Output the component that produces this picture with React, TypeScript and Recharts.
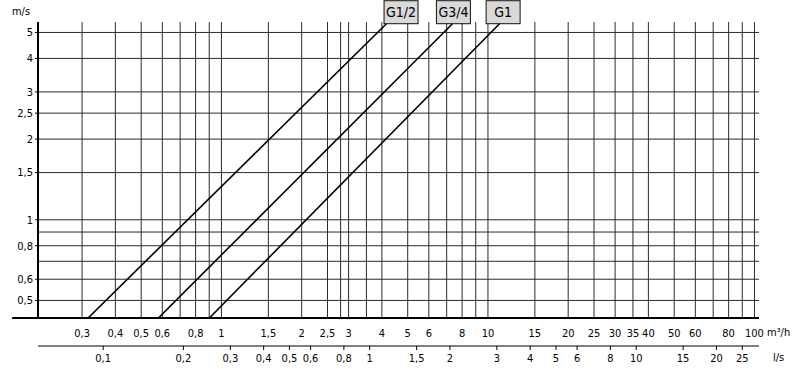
import React from "react";
import { LineChart, Line, XAxis, YAxis, ReferenceLine, ReferenceDot } from "recharts";

// flow in m3/h (top scale) and l/s (bottom scale), velocity in m/s
const flowTicks = [0.3, 0.4, 0.5, 0.6, 0.8, 1, 1.5, 2, 2.5, 3, 4, 5, 6, 8, 10, 15, 20, 25, 30, 35, 40, 50, 60, 80, 100];
const flowGrid = [0.3, 0.4, 0.5, 0.6, 0.7, 0.8, 0.9, 1, 1.5, 2, 2.5, 2.8, 3, 3.5, 4, 5, 6, 7, 8, 9, 10, 15, 20, 25, 30, 35, 40, 50, 60, 70, 80, 90, 100];
const litreTicks = [0.1, 0.2, 0.3, 0.4, 0.5, 0.6, 0.8, 1, 1.5, 2, 3, 4, 5, 6, 8, 10, 15, 20, 25];
const speedTicks = [0.5, 0.6, 0.8, 1, 1.5, 2, 2.5, 3, 4, 5];
const speedGrid = [0.5, 0.6, 0.7, 0.8, 0.9, 1, 1.5, 2, 2.5, 3, 4, 5];

const flowDomain = [0.205, 104];
const litreDomain = [0.205 / 3.6, 104 / 3.6];
const speedDomain = [0.43, 5.47];

const pipeHalf = [
  { q: 0.316, v: 0.43 },
  { q: 4.16, v: 5.39 },
];
const pipeThreeQuarter = [
  { q: 0.58, v: 0.43 },
  { q: 7.36, v: 5.39 },
];
const pipeOne = [
  { q: 0.901, v: 0.43 },
  { q: 11.05, v: 5.39 },
];

const pipeTags = [
  { name: "G1/2", q: 4.72, v: 5.39 },
  { name: "G3/4", q: 7.42, v: 5.39 },
  { name: "G1", q: 11.4, v: 5.39 },
];

const font = "'DejaVu Sans Condensed', 'Liberation Sans Narrow', sans-serif";
const fmt = (v: number) => String(v).replace(".", ",");

const PipeTag = ({ viewBox, tag }: any) => {
  const cx = viewBox.x;
  const cy = viewBox.y;
  return (
    <g>
      <rect x={cx - 17} y={cy - 23} width={34} height={23} fill="#d9d9d9" stroke="#111" strokeWidth={1} />
      <text x={cx} y={cy - 6.5} textAnchor="middle" fontFamily={font} fontSize={14} fill="#000">
        {tag}
      </text>
    </g>
  );
};

export default function App() {
  const tickStyle = { fontSize: 11, fontFamily: font, fill: "#000" };
  // invisible carrier so the l/s axis gets its ticks
  const litreCarrier = litreTicks.map((l) => ({ l, v: 1 }));
  return (
    <div style={{ position: "absolute", left: 0, top: 0, width: 800, height: 369, background: "#fff" }}>
      <LineChart width={800} height={369} margin={{ top: 22, right: 41, left: 8, bottom: 0 }}>
        <XAxis
          xAxisId="flow"
          type="number"
          dataKey="q"
          scale="log"
          domain={flowDomain}
          allowDataOverflow
          ticks={flowTicks}
          interval={0}
          tickFormatter={fmt}
          tick={tickStyle}
          tickLine={false}
          axisLine={false}
          tickSize={8}
          tickMargin={3}
          height={28}
          label={{ value: "m³/h", position: "right", offset: 8, fontSize: 11, fontFamily: font, fill: "#000" }}
        />
        <XAxis
          xAxisId="litre"
          type="number"
          dataKey="l"
          scale="log"
          domain={litreDomain}
          allowDataOverflow
          ticks={litreTicks}
          interval={0}
          tickFormatter={fmt}
          tick={tickStyle}
          tickLine={{ stroke: "#000" }}
          axisLine={{ stroke: "#000" }}
          tickSize={4}
          tickMargin={4}
          height={23}
          label={{ value: "l/s", position: "right", offset: 14, fontSize: 11, fontFamily: font, fill: "#000" }}
        />
        <YAxis
          type="number"
          dataKey="v"
          scale="log"
          domain={speedDomain}
          allowDataOverflow
          ticks={speedTicks}
          interval={0}
          tickFormatter={fmt}
          tick={tickStyle}
          tickLine={{ stroke: "#000" }}
          axisLine={{ stroke: "#000", strokeWidth: 2 }}
          tickSize={3}
          tickMargin={2}
          width={30}
          label={{ value: "m/s", position: "top", offset: 7, dx: -2, fontSize: 11, fontFamily: font, fill: "#000" }}
        />

        {speedGrid.map((v) => (
          <ReferenceLine key={"h" + v} xAxisId="flow" y={v} stroke="#2b2b2b" strokeWidth={1} />
        ))}
        {flowGrid.map((q) => (
          <ReferenceLine key={"v" + q} xAxisId="flow" x={q} stroke="#2b2b2b" strokeWidth={1} />
        ))}
        <ReferenceLine
          xAxisId="flow"
          segment={[
            { x: 0.164, y: 0.43 },
            { x: 104, y: 0.43 },
          ]}
          ifOverflow="visible"
          stroke="#000"
          strokeWidth={2}
        />

        <Line xAxisId="litre" data={litreCarrier} dataKey="v" type="linear" stroke="none" dot={false} activeDot={false} legendType="none" isAnimationActive={false} />

        <Line xAxisId="flow" data={pipeHalf} dataKey="v" type="linear" stroke="#000" strokeWidth={1.6} dot={false} isAnimationActive={false} />
        <Line xAxisId="flow" data={pipeThreeQuarter} dataKey="v" type="linear" stroke="#000" strokeWidth={1.6} dot={false} isAnimationActive={false} />
        <Line xAxisId="flow" data={pipeOne} dataKey="v" type="linear" stroke="#000" strokeWidth={1.6} dot={false} isAnimationActive={false} />

        {pipeTags.map((t) => (
          <ReferenceDot
            key={t.name}
            xAxisId="flow"
            x={t.q}
            y={t.v}
            r={0}
            fill="none"
            stroke="none"
            ifOverflow="visible"
            label={<PipeTag tag={t.name} />}
          />
        ))}
      </LineChart>
    </div>
  );
}
